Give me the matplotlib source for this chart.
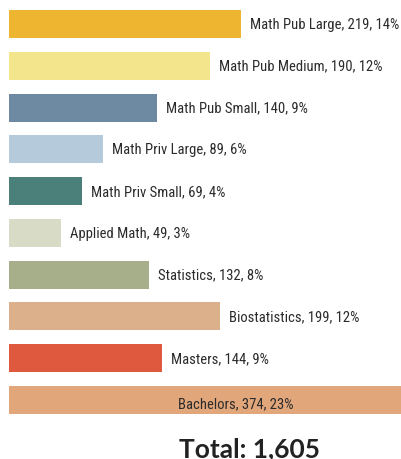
import matplotlib
matplotlib.use("Agg")
import matplotlib.pyplot as plt
from matplotlib import font_manager

categories = [
    "Math Pub Large", "Math Pub Medium", "Math Pub Small", "Math Priv Large",
    "Math Priv Small", "Applied Math", "Statistics", "Biostatistics",
    "Masters", "Bachelors",
]
counts = [219, 190, 140, 89, 69, 49, 132, 199, 144, 374]
percents = [14, 12, 9, 6, 4, 3, 8, 12, 9, 23]
total = 1605
colors = [
    "#EEB531", "#F3E58C", "#6E8AA3", "#B5CADB", "#4A7F7A",
    "#D8DBC5", "#A6AF89", "#DCB08A", "#DE593D", "#E2A67B",
]

# pick a condensed face if one is around, otherwise Roboto
names = {f.name for f in font_manager.fontManager.ttflist}
label_font, label_size = ["Roboto", "DejaVu Sans"], 9.5
for cand in ("Roboto Condensed", "Liberation Sans Narrow", "Open Sans Condensed"):
    if cand in names:
        label_font, label_size = [cand, "DejaVu Sans"], 10.5
        break

W, H = 402, 460
fig = plt.figure(figsize=(W / 100, H / 100), dpi=100)
top_px, bot_px = 4.1, 421.9
ax = fig.add_axes([9 / W, 1 - bot_px / H, 1 - 9 / W, (bot_px - top_px) / H])

ypos = list(range(len(categories)))
ax.barh(ypos, counts, height=0.67, color=colors)
ax.set_xlim(0, 371)
ax.set_ylim(len(categories) - 0.5, -0.5)
ax.axis("off")

px_per_unit = (W - 9) / 371
for i, (name, c, p) in enumerate(zip(categories, counts, percents)):
    text = f"{name}, {c}, {p}%"
    if c >= 371:
        # too long for the axis: label sits inside the bar
        ax.text(214, i + 0.07, text, ha="center", va="center", fontsize=label_size,
                family=label_font, color="#2b2b2b")
    else:
        ax.text(c + 9 / px_per_unit, i, text, ha="left", va="center",
                fontsize=label_size, family=label_font, color="#2b2b2b")

fig.text(250 / W, 1 - 449 / H, f"Total: {total:,}", ha="center", va="center",
         fontsize=19, fontweight="bold", family=["Lato", "DejaVu Sans"],
         color="#222222")

fig.savefig("out.png", dpi=100)
